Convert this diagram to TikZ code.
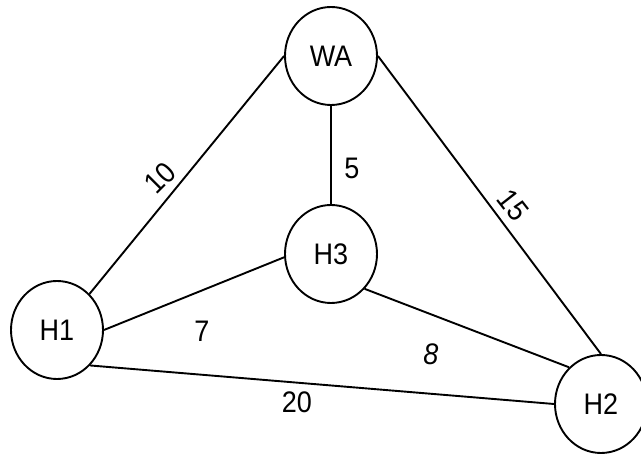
\documentclass[tikz,border=0pt]{standalone}
\usepackage{fontspec}
\setmainfont{Liberation Sans}
\usetikzlibrary{shapes.geometric}
\newcommand{\stretchtx}[1]{\scalebox{1}[1.1]{#1}}
\begin{document}
\begin{tikzpicture}[x=1pt,y=-1pt,
  st/.style={draw, ellipse, line width=1.9pt, minimum width=92pt, minimum height=98pt, inner sep=0pt, font=\fontsize{27}{30}\selectfont},
  lbl/.style={font=\fontsize{27}{30}\selectfont, inner sep=0pt},
  edge/.style={line width=1.9pt}]
\useasboundingbox[fill=white] (0,0) rectangle (641,454);
\node[st] (WA) at (331,56) {\stretchtx{WA}};
\node[st] (H3) at (331,254) {\stretchtx{H3}};
\node[st] (H1) at (57,330) {\stretchtx{H1}};
\node[st] (H2) at (601,404) {\stretchtx{H2}};
\draw[edge] (H1.48) -- (WA.west);
\draw[edge] (WA.south) -- (H3.north);
\draw[edge] (WA.east) -- (H2.north);
\draw[edge] (H1.east) -- (H3.184);
\draw[edge] (H3.-46) -- (H2.131);
\draw[edge] (H1.-47) -- (H2.west);
\node[lbl, rotate=45] (l10) at (160,178) {\stretchtx{10}};
\node[lbl] (l5) at (352,168) {\stretchtx{5}};
\node[lbl, rotate=-52] (l15) at (513,205) {\stretchtx{15}};
\node[lbl] (l7) at (202,331) {\stretchtx{7}};
\node[lbl, font=\fontsize{27}{30}\selectfont\itshape] (l8) at (431,354) {\stretchtx{8}};
\node[lbl] (l20) at (297,402) {\stretchtx{20}};
\end{tikzpicture}
\end{document}
